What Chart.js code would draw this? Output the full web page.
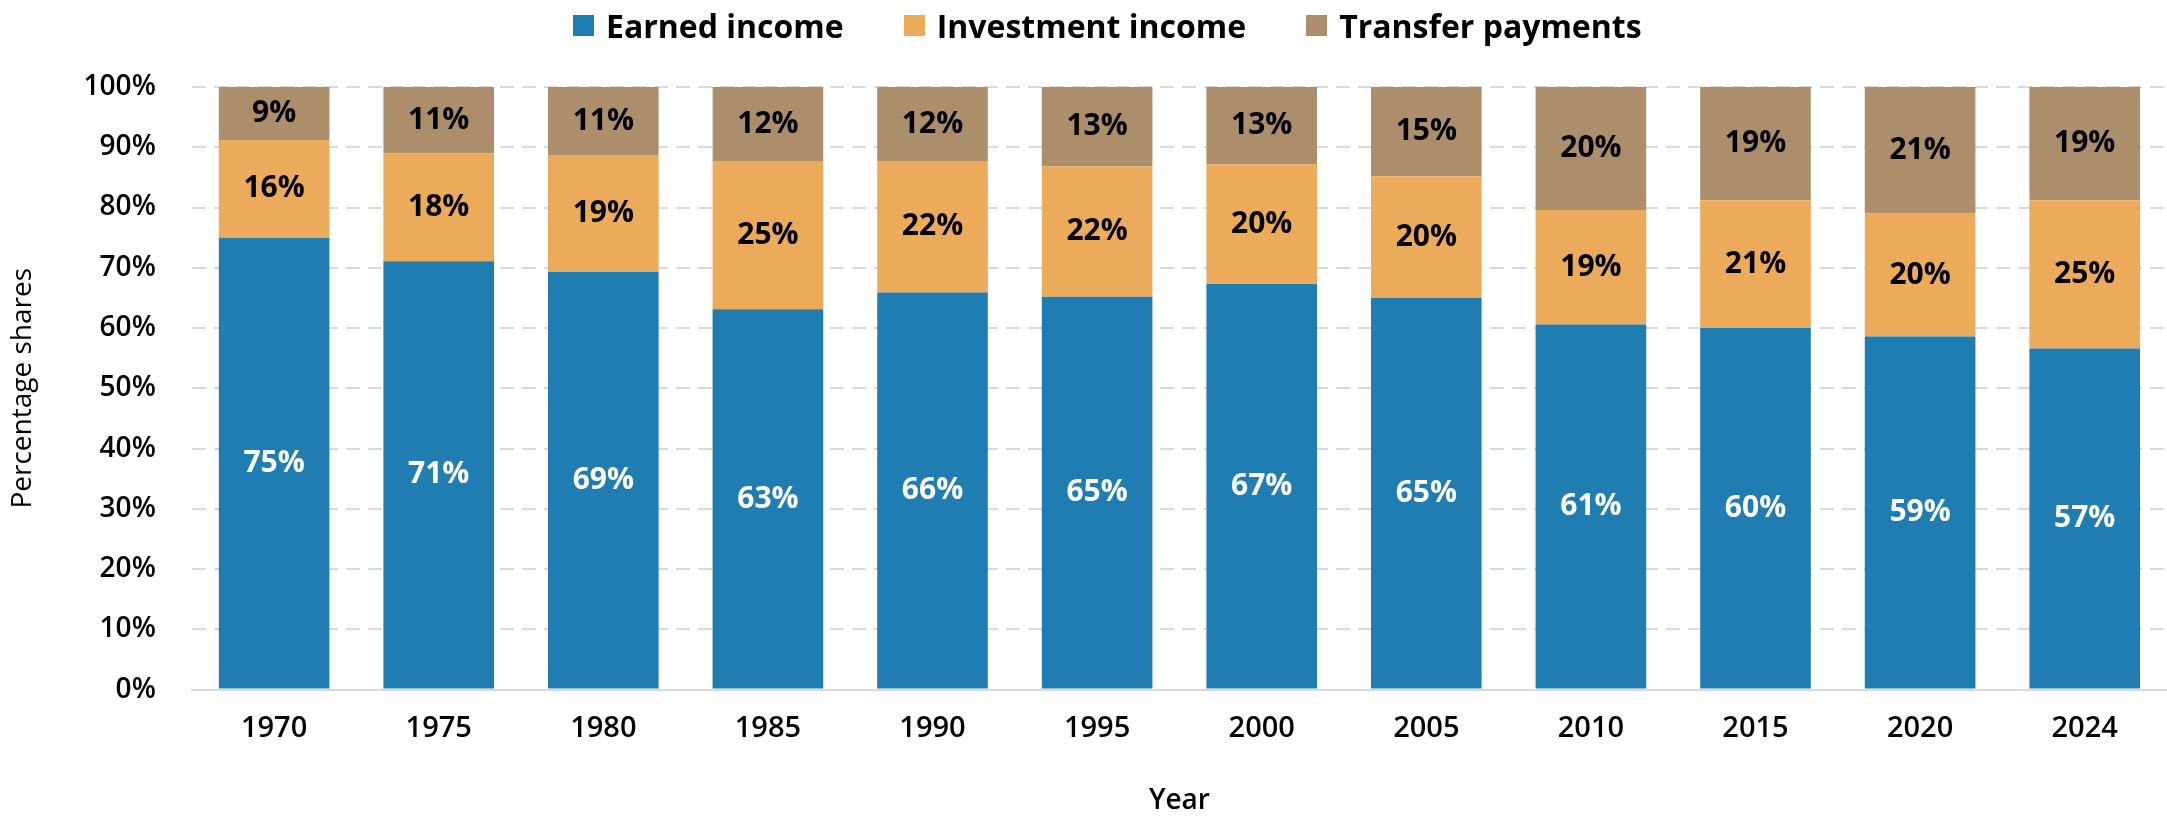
<!DOCTYPE html>
<html>
<head>
<meta charset="utf-8">
<script src="https://cdn.jsdelivr.net/npm/chart.js@4.4.1/dist/chart.umd.min.js"></script>
<style>
  html, body { margin: 0; padding: 0; background: #fff; }
  #wrap { position: relative; width: 2167px; height: 818px; }
  #legend {
    position: absolute; top: 4px; left: 573px;
    display: flex; align-items: center; gap: 60px;
    font-family: 'Open Sans', 'Noto Sans', sans-serif;
    font-weight: bold; font-size: 32px; color: #000;
  }
  #legend span.item { display: flex; align-items: center; }
  #legend i { display: inline-block; width: 21px; height: 21px; margin-right: 12px; }
</style>
</head>
<body>
<div id="wrap">
  <canvas id="shareChart" width="2167" height="818"></canvas>
  <div id="legend"></div>
</div>
<script>
// data
const years = ["1970", "1975", "1980", "1985", "1990", "1995", "2000", "2005", "2010", "2015", "2020", "2024"];
const earned = [75.0, 71.1, 69.3, 63.1, 65.9, 65.2, 67.3, 65.0, 60.6, 60.0, 58.6, 56.6];
const investment = [16.2, 17.9, 19.4, 24.6, 21.8, 21.6, 19.9, 20.2, 19.0, 21.2, 20.4, 24.6];
const transfer = [8.8, 11.0, 11.3, 12.3, 12.3, 13.2, 12.8, 14.8, 20.4, 18.8, 21.0, 18.8];
const yTicks = [0, 10, 20, 30, 40, 50, 60, 70, 80, 90, 100];

const FONT = "'Open Sans', 'Noto Sans', sans-serif";

// draws the % label in the middle of each segment
const segmentLabels = {
  id: "segmentLabels",
  afterDatasetsDraw(chart) {
    const ctx = chart.ctx;
    ctx.save();
    ctx.font = "bold 30px " + FONT;
    ctx.textAlign = "center";
    ctx.textBaseline = "middle";
    chart.data.datasets.forEach((ds, i) => {
      const meta = chart.getDatasetMeta(i);
      meta.data.forEach((bar, j) => {
        const p = bar.getProps(["x", "y", "base"], true);
        ctx.fillStyle = i === 0 ? "#ffffff" : "#000000";
        ctx.fillText(Math.round(ds.data[j]) + "%", p.x, (p.y + p.base) / 2);
      });
    });
    ctx.restore();
  },
};

const ctx = document.getElementById("shareChart");
const chart = new Chart(ctx, {
  type: "bar",
  data: {
    labels: years,
    datasets: [
      { label: "Earned income", data: earned, backgroundColor: "#1f7db1" },
      { label: "Investment income", data: investment, backgroundColor: "#ecab5b" },
      { label: "Transfer payments", data: transfer, backgroundColor: "#ac8e6c" },
    ],
  },
  options: {
    responsive: false,
    animation: false,
    layout: { padding: { top: 87, right: 0, left: 6, bottom: 0 } },
    datasets: { bar: { categoryPercentage: 1, barPercentage: 0.672 } },
    plugins: {
      tooltip: { enabled: false },
      legend: { display: false },
    },
    scales: {
      x: {
        stacked: true,
        grid: { display: false },
        border: { display: true, color: "#d9d9d9", width: 2 },
        ticks: { color: "#000", padding: 14, font: { family: FONT, size: 29, weight: "600" } },
        title: {
          display: true,
          text: "Year",
          color: "#000",
          padding: { top: 24, bottom: 0 },
          font: { family: FONT, size: 28, weight: "600" },
        },
      },
      y: {
        stacked: true,
        min: 0,
        max: 100,
        afterBuildTicks(axis) {
          axis.ticks = yTicks.map((v) => ({ value: v }));
        },
        grid: { color: "#d9d9d9", lineWidth: 2, drawTicks: false },
        border: { display: false, dash: [14, 8] },
        ticks: {
          color: "#000",
          padding: 36,
          font: { family: FONT, size: 28, weight: "600" },
          callback: (v) => v + "%",
        },
        title: {
          display: true,
          text: "Percentage shares",
          color: "#000",
          padding: { top: 0, bottom: 8 },
          font: { family: FONT, size: 28 },
        },
      },
    },
  },
  plugins: [segmentLabels],
});

// html legend built from the datasets
const legendEl = document.getElementById("legend");
chart.data.datasets.forEach((ds) => {
  const item = document.createElement("span");
  item.className = "item";
  item.innerHTML = '<i style="background:' + ds.backgroundColor + '"></i>' + ds.label;
  legendEl.appendChild(item);
});
</script>
</body>
</html>
